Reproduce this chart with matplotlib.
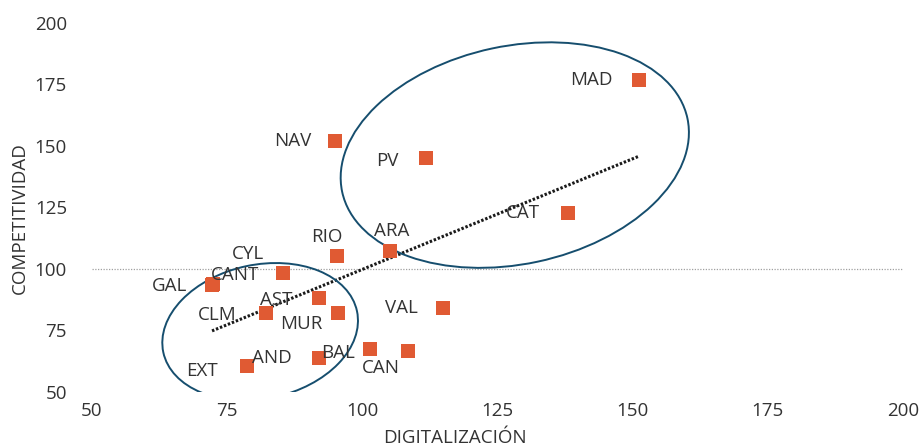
import numpy as np
import matplotlib
matplotlib.use("Agg")
import matplotlib.pyplot as plt
from matplotlib.patches import Ellipse
from matplotlib.transforms import ScaledTranslation

plt.rcParams['font.family'] = ['Open Sans', 'DejaVu Sans']

# datos
regiones = ['MAD', 'NAV', 'PV', 'CAT', 'ARA', 'RIO', 'CYL', 'CANT', 'GAL',
            'AST', 'CLM', 'MUR', 'VAL', 'EXT', 'AND', 'BAL', 'CAN']
digitalizacion = [151.2, 95.0, 111.8, 138.0, 105.2, 95.3, 85.3, 72.3, 72.2,
                  91.9, 82.2, 95.5, 114.9, 78.7, 91.9, 101.5, 108.4]
competitividad = [176.8, 152.2, 145.0, 122.6, 107.5, 105.2, 98.2, 93.8, 93.6,
                  88.1, 82.0, 82.0, 84.3, 60.4, 63.7, 67.5, 66.5]

# desplazamiento de etiquetas (pt) y alineacion
etiq = {
    'MAD': (-19, 0, 'right'), 'NAV': (-17, 0, 'right'), 'PV': (-20, -2, 'right'),
    'CAT': (-20, 0, 'right'), 'ARA': (1, 14, 'center'), 'RIO': (-7, 14, 'center'),
    'CYL': (-25, 14, 'center'), 'CANT': (-1, 7, 'left'), 'GAL': (-18, -1, 'right'),
    'AST': (-19, -1, 'right'), 'CLM': (-21, -1, 'right'), 'MUR': (-11, -8, 'right'),
    'VAL': (-18, 0, 'right'), 'EXT': (-21, -3, 'right'), 'AND': (-19, 0, 'right'),
    'BAL': (-11, -3, 'right'), 'CAN': (-19, -12, 'center'),
}

texto = '#333333'
naranja = '#E05A33'
azul = '#164E6E'

fig = plt.figure(figsize=(9.2, 4.48), dpi=100)
ax = fig.add_axes([0.1, 0.125, 0.8815, 0.8237])

ax.axhline(100, color='#a0a0a0', lw=0.9, ls=(0, (1, 1.2)), zorder=1)

# linea de tendencia
x = np.array(digitalizacion)
y = np.array(competitividad)
m, b = np.polyfit(x, y, 1)
xt = np.array([x.min(), x.max()])
ax.plot(xt, m * xt + b, color='#1a1a1a', lw=2.2, ls=(0, (0.8, 0.6)), zorder=2)

ax.scatter(x, y, marker='s', s=105, color=naranja, lw=0, zorder=4)

for n, xi, yi in zip(regiones, digitalizacion, competitividad):
    dx, dy, ha = etiq[n]
    ax.annotate(n, (xi, yi), xytext=(dx, dy), textcoords='offset points',
                ha=ha, va='center', fontsize=13.5, color=texto, zorder=5)

# elipses (tamano en pulgadas)
for cx, cy, w, h in [(128.2, 146.3, 3.53, 2.18), (81.1, 74.5, 1.98, 1.34)]:
    tr = fig.dpi_scale_trans + ScaledTranslation(cx, cy, ax.transData)
    ax.add_patch(Ellipse((0, 0), w, h, angle=12, transform=tr, fill=False,
                         ec=azul, lw=1.4, zorder=3))

ax.set_xlim(50, 200)
ax.set_ylim(50, 200)
ax.set_xticks([50, 75, 100, 125, 150, 175, 200])
ax.set_yticks([50, 75, 100, 125, 150, 175, 200])
ax.tick_params(length=0, labelsize=13.5, labelcolor=texto)
ax.tick_params(axis='y', pad=18)
ax.tick_params(axis='x', pad=7)
for s in ax.spines.values():
    s.set_visible(False)

ax.set_xlabel('DIGITALIZACIÓN', fontsize=13.5, color=texto, labelpad=2)
ax.xaxis.set_label_coords(0.447, -0.1)
ax.set_ylabel('COMPETITIVIDAD', fontsize=13.5, color=texto)
ax.yaxis.set_label_coords(-0.078, 0.47)

fig.savefig('out.png', dpi=100)
